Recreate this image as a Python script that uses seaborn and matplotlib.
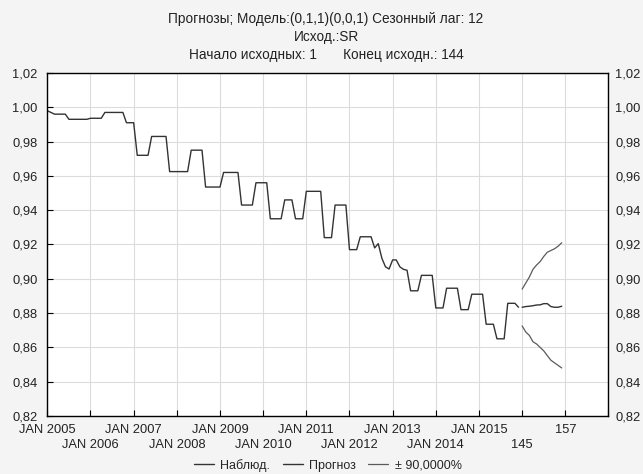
import seaborn as sns
import matplotlib.pyplot as plt
from matplotlib.ticker import FuncFormatter

# observed series (monthly, Jan 2005 onwards)
observed = [
    0.998, 0.997, 0.996, 0.996, 0.996, 0.996,
    0.993, 0.993, 0.993, 0.993, 0.993, 0.993,
    0.9936, 0.9936, 0.9936, 0.9936,
    0.997, 0.997, 0.997, 0.997, 0.997, 0.997,
    0.991, 0.991, 0.991,
    0.972, 0.972, 0.972, 0.972,
    0.983, 0.983, 0.983, 0.983, 0.983,
    0.9625, 0.9625, 0.9625, 0.9625, 0.9625, 0.9625,
    0.975, 0.975, 0.975, 0.975,
    0.9535, 0.9535, 0.9535, 0.9535, 0.9535,
    0.962, 0.962, 0.962, 0.962, 0.962,
    0.943, 0.943, 0.943, 0.943,
    0.956, 0.956, 0.956, 0.956,
    0.935, 0.935, 0.935, 0.935,
    0.946, 0.946, 0.946,
    0.935, 0.935, 0.935,
    0.951, 0.951, 0.951, 0.951, 0.951,
    0.924, 0.924, 0.924,
    0.943, 0.943, 0.943, 0.943,
    0.917, 0.917, 0.917,
    0.9245, 0.9245, 0.9245, 0.9245,
    0.918, 0.9205, 0.912, 0.907, 0.9057, 0.911, 0.911, 0.907, 0.9055, 0.905,
    0.893, 0.893, 0.893,
    0.902, 0.902, 0.902, 0.902,
    0.883, 0.883, 0.883,
    0.8945, 0.8945, 0.8945, 0.8945,
    0.882, 0.882, 0.882,
    0.891, 0.891, 0.891, 0.891,
    0.8735, 0.8735, 0.8735,
    0.865, 0.865, 0.865,
    0.8857, 0.8857, 0.8857,
    0.8834,
]

forecast = [0.8834, 0.8838, 0.884, 0.8843, 0.8847, 0.8848,
            0.8855, 0.8855, 0.8838, 0.8834, 0.8834, 0.884]
upper = [0.894, 0.8975, 0.901, 0.9055, 0.908, 0.910,
         0.913, 0.9155, 0.9165, 0.9175, 0.919, 0.921]
lower = [0.8725, 0.869, 0.867, 0.8633, 0.862, 0.860,
         0.858, 0.8552, 0.8525, 0.851, 0.8495, 0.848]

# staggered tick labels: upper row and lower row
top_row_labels = ["JAN 2005", "JAN 2007", "JAN 2009", "JAN 2011",
                  "JAN 2013", "JAN 2015", "157"]
bottom_row_labels = ["JAN 2006", "JAN 2008", "JAN 2010", "JAN 2012",
                     "JAN 2014", "145", ""]

title_lines = ["Прогнозы; Модель:(0,1,1)(0,0,1) Сезонный лаг: 12",
               "Исход.:SR",
               "Начало исходных: 1       Конец исходн.: 144"]

sns.set_style("white")
plt.rcParams["font.family"] = ["Liberation Sans", "DejaVu Sans"]
plt.rcParams["font.size"] = 9

fig = plt.figure(figsize=(6.43, 4.74), dpi=100, facecolor="#f4f4f4")
ax = fig.add_axes([0.0736, 0.1224, 0.8727, 0.7236])
ax.set_facecolor("white")

n_obs = len(observed)
x_obs = list(range(n_obs))
x_fc = list(range(n_obs, n_obs + len(forecast)))

sns.lineplot(x=x_obs, y=observed, ax=ax, color="#333333", linewidth=1.0,
             label="Наблюд.")
sns.lineplot(x=x_fc, y=forecast, ax=ax, color="#333333", linewidth=1.0,
             label="Прогноз")
sns.lineplot(x=x_fc, y=upper, ax=ax, color="#5a5a5a", linewidth=0.9,
             label="± 90,0000%")
sns.lineplot(x=x_fc, y=lower, ax=ax, color="#5a5a5a", linewidth=0.9)

yticks = [0.82 + 0.02 * k for k in range(11)]
fmt = FuncFormatter(lambda v, p: f"{v:.2f}".replace(".", ","))

ax.set_xlim(0, 156)
ax.set_ylim(0.82, 1.02)
ax.set_xticks(range(0, 157, 24))
ax.set_xticklabels(top_row_labels)
ax.set_xticks(range(12, 157, 24), minor=True)
ax.set_xticklabels(bottom_row_labels, minor=True)
ax.set_yticks(yticks)
ax.yaxis.set_major_formatter(fmt)

ax.grid(True, which="both", color="#dcdcdc", linewidth=0.8)
ax.tick_params(axis="both", which="both", direction="in", length=4, width=0.8,
               color="black", labelcolor="#222222", labelsize=9.3)
ax.tick_params(axis="y", left=True, right=True, pad=7)
ax.tick_params(axis="x", which="major", bottom=True, pad=6)
ax.tick_params(axis="x", which="minor", bottom=True, pad=16.5)
for side in ["left", "right", "bottom", "top"]:
    ax.spines[side].set_visible(True)
    ax.spines[side].set_color("black")
    ax.spines[side].set_linewidth(1.0)
ax.set_xlabel("")
ax.set_ylabel("")

# right-hand copy of the value axis
ax2 = ax.twinx()
ax2.set_ylim(ax.get_ylim())
ax2.set_yticks(yticks)
ax2.yaxis.set_major_formatter(fmt)
ax2.tick_params(axis="y", direction="in", length=0, pad=5, labelsize=9.3,
                labelcolor="#222222")
ax2.grid(False)
for side in ["left", "right", "bottom", "top"]:
    ax2.spines[side].set_visible(False)

ax.legend(loc="lower center", bbox_to_anchor=(0.5, -0.188), ncol=3, frameon=False,
          handlelength=1.6, handletextpad=0.5, columnspacing=1.0, fontsize=9,
          borderpad=0.2)

for k, line in enumerate(title_lines):
    fig.text(0.507, 1 - (18.5 + 18.5 * k) / 474, line, ha="center", va="center",
             fontsize=9.8, color="#222222")

fig.savefig("out.png", dpi=100, facecolor=fig.get_facecolor())
